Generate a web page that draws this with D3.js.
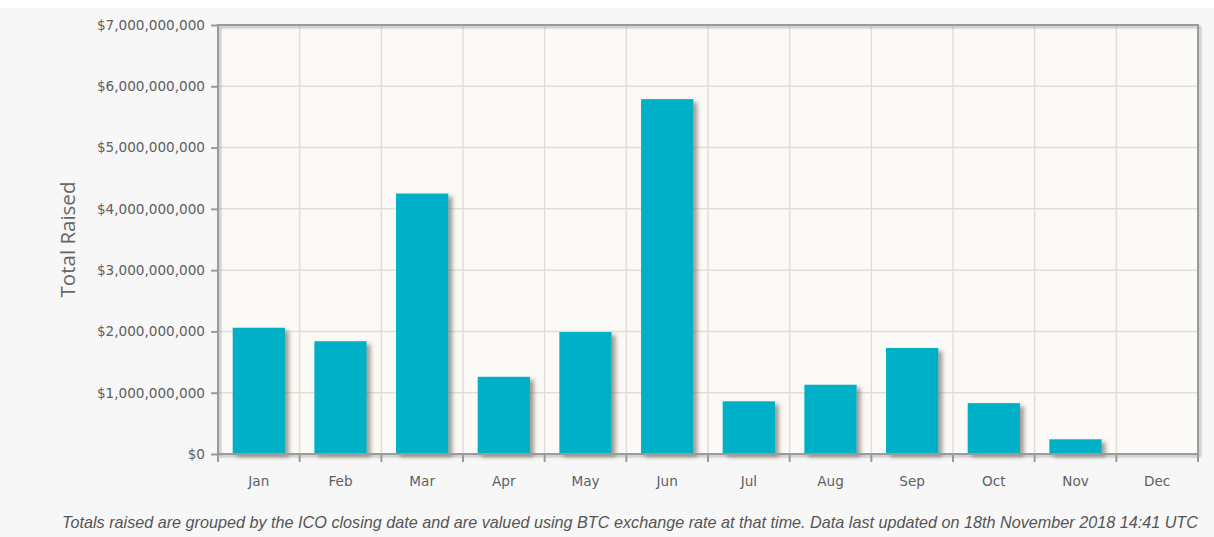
<!DOCTYPE html>
<html>
<head>
<meta charset="utf-8">
<script src="https://cdn.jsdelivr.net/npm/d3@7"></script>
<style>
  html, body { margin: 0; padding: 0; background: #f7f7f7; }
  svg { display: block; }
</style>
</head>
<body>
<svg id="chart" width="1214" height="537"></svg>
<script>
// Monthly ICO totals raised in 2018 (USD)
const months = ["Jan", "Feb", "Mar", "Apr", "May", "Jun", "Jul", "Aug", "Sep", "Oct", "Nov", "Dec"];
const totals = [2060000000, 1840000000, 4250000000, 1260000000, 1990000000, 5790000000,
                860000000, 1130000000, 1730000000, 830000000, 240000000, 0];
const yTicks = [0, 1000000000, 2000000000, 3000000000, 4000000000, 5000000000, 6000000000, 7000000000];
const yTitle = "Total Raised";
const footnote = "Totals raised are grouped by the ICO closing date and are valued using BTC exchange rate at that time. Data last updated on 18th November 2018 14:41 UTC";

const W = 1214, H = 537;
const plot = { left: 218, right: 1198, top: 25, bottom: 454 };
const tickFont = "'DejaVu Sans', Verdana, sans-serif";

const svg = d3.select("#chart");

// White strip along the top edge of the page
svg.append("rect").attr("x", 0).attr("y", 0).attr("width", W).attr("height", 8).attr("fill", "#ffffff");

const defs = svg.append("defs");
const barShadow = defs.append("filter").attr("id", "barShadow")
  .attr("x", "-20%").attr("y", "-20%").attr("width", "160%").attr("height", "160%");
barShadow.append("feDropShadow").attr("dx", 4).attr("dy", 3).attr("stdDeviation", 2)
  .attr("flood-color", "#5a5040").attr("flood-opacity", 0.55);
const frameShadow = defs.append("filter").attr("id", "frameShadow")
  .attr("x", "-5%").attr("y", "-5%").attr("width", "110%").attr("height", "110%");
frameShadow.append("feDropShadow").attr("dx", 2).attr("dy", 2).attr("stdDeviation", 1.2)
  .attr("flood-color", "#777").attr("flood-opacity", 0.5);

const x = d3.scaleBand().domain(months).range([plot.left, plot.right]).paddingInner(0).paddingOuter(0);
const y = d3.scaleLinear().domain([0, 7000000000]).range([plot.bottom, plot.top]);

// Plot background
svg.append("rect")
  .attr("x", plot.left).attr("y", plot.top)
  .attr("width", plot.right - plot.left).attr("height", plot.bottom - plot.top)
  .attr("fill", "#fbfaf6");

// Grid lines
const grid = svg.append("g").attr("stroke", "#e2dfd8").attr("stroke-width", 1.5);
grid.selectAll("line.h").data(yTicks.slice(1, -1)).join("line")
  .attr("x1", plot.left).attr("x2", plot.right)
  .attr("y1", d => y(d)).attr("y2", d => y(d));
grid.selectAll("line.v").data(months.slice(1)).join("line")
  .attr("y1", plot.top).attr("y2", plot.bottom)
  .attr("x1", d => x(d)).attr("x2", d => x(d));

// Bars
const barW = x.bandwidth() * 0.64;
svg.append("g").selectAll("rect").data(months.map((m, i) => ({ m, v: totals[i] })).filter(d => d.v > 0))
  .join("rect")
  .attr("x", d => x(d.m) + (x.bandwidth() - barW) / 2)
  .attr("y", d => y(d.v))
  .attr("width", barW)
  .attr("height", d => y(0) - y(d.v))
  .attr("fill", "#00b0c6")
  .attr("filter", "url(#barShadow)");

// Plot frame
svg.append("rect")
  .attr("x", plot.left).attr("y", plot.top)
  .attr("width", plot.right - plot.left).attr("height", plot.bottom - plot.top)
  .attr("fill", "none").attr("stroke", "#9a9a9a").attr("stroke-width", 2)
  .attr("filter", "url(#frameShadow)");

// Y axis
const yAxis = d3.axisLeft(y).tickValues(yTicks).tickSize(6).tickPadding(6)
  .tickFormat(d => "$" + d3.format(",")(d));
const gy = svg.append("g").attr("transform", `translate(${plot.left - 1},0)`).call(yAxis);
gy.select(".domain").remove();
gy.selectAll(".tick line").attr("stroke", "#9a9a9a").attr("stroke-width", 2);
gy.selectAll(".tick text").attr("fill", "#5f5f5f").style("font-family", tickFont)
  .style("font-size", "13.6px");

// X axis: ticks at category boundaries, labels at category centres
const gx = svg.append("g");
gx.selectAll("line").data(months.concat(["__end"])).join("line")
  .attr("x1", (d, i) => plot.left + i * x.bandwidth()).attr("x2", (d, i) => plot.left + i * x.bandwidth())
  .attr("y1", plot.bottom).attr("y2", plot.bottom + 8)
  .attr("stroke", "#9a9a9a").attr("stroke-width", 2);
gx.selectAll("text").data(months).join("text")
  .attr("x", d => x(d) + x.bandwidth() / 2)
  .attr("y", 486)
  .attr("text-anchor", "middle")
  .attr("fill", "#5f5f5f")
  .style("font-family", tickFont)
  .style("font-size", "13.6px")
  .text(d => d);

// Y axis title
svg.append("text")
  .attr("transform", `translate(75,${(plot.top + plot.bottom) / 2}) rotate(-90)`)
  .attr("text-anchor", "middle")
  .attr("fill", "#666")
  .style("font-family", "'Open Sans', sans-serif")
  .style("font-size", "20.5px")
  .text(yTitle);

// Footnote
svg.append("text")
  .attr("x", 630).attr("y", 528)
  .attr("text-anchor", "middle")
  .attr("fill", "#555")
  .style("font-family", "'Liberation Sans', Arial, sans-serif")
  .style("font-style", "italic")
  .style("font-size", "16.2px")
  .text(footnote);
</script>
</body>
</html>
